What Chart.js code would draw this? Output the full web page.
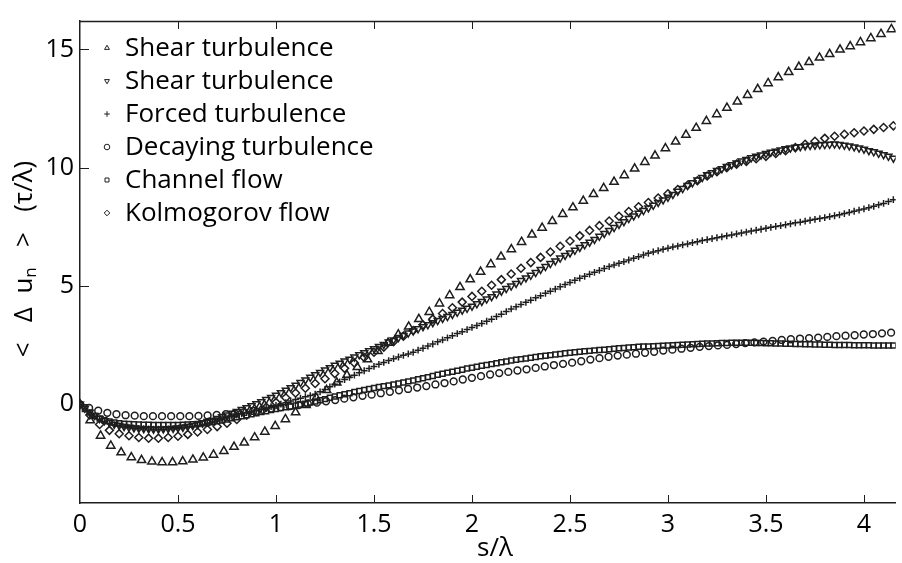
<!DOCTYPE html>
<html>
<head>
<meta charset="utf-8">
<script src="https://cdn.jsdelivr.net/npm/chart.js@4.4.1/dist/chart.umd.min.js"></script>
<style>
  body { margin: 0; background: #fff; }
  canvas { display: block; }
</style>
</head>
<body>
<canvas id="myChart" width="902" height="563"></canvas>
<script>
// Nombres de las series (leyenda)
const seriesLabels = ['Shear turbulence', 'Shear turbulence', 'Forced turbulence',
  'Decaying turbulence', 'Channel flow', 'Kolmogorov flow'];

// Shear turbulence (triángulo hacia arriba)
const sTri = [
  0, 0.052, 0.105, 0.157, 0.21, 0.262, 0.314, 0.367, 0.419, 0.472,
  0.524, 0.576, 0.629, 0.681, 0.734, 0.786, 0.838, 0.891, 0.943, 0.996,
  1.048, 1.1, 1.153, 1.205, 1.258, 1.31, 1.362, 1.415, 1.467, 1.52,
  1.572, 1.624, 1.677, 1.729, 1.782, 1.834, 1.886, 1.939, 1.991, 2.044,
  2.096, 2.148, 2.201, 2.253, 2.306, 2.358, 2.41, 2.463, 2.515, 2.568,
  2.62, 2.672, 2.725, 2.777, 2.83, 2.882, 2.934, 2.987, 3.039, 3.092,
  3.144, 3.196, 3.249, 3.301, 3.354, 3.406, 3.458, 3.511, 3.563, 3.616,
  3.668, 3.72, 3.773, 3.825, 3.878, 3.93, 3.982, 4.035, 4.087, 4.14
];
const shearUpY = [
  0, -0.68, -1.33, -1.75, -2.03, -2.24, -2.36, -2.42, -2.45, -2.45,
  -2.41, -2.34, -2.25, -2.13, -1.98, -1.8, -1.62, -1.4, -1.16, -0.92,
  -0.63, -0.34, -0.03, 0.28, 0.6, 0.92, 1.23, 1.57, 1.9, 2.25,
  2.6, 2.95, 3.28, 3.6, 3.9, 4.26, 4.61, 4.95, 5.28, 5.6,
  5.92, 6.24, 6.55, 6.86, 7.17, 7.46, 7.74, 8.04, 8.32, 8.6,
  8.88, 9.14, 9.4, 9.68, 9.96, 10.24, 10.51, 10.82, 11.1, 11.39,
  11.68, 11.97, 12.26, 12.53, 12.79, 13.07, 13.32, 13.57, 13.82, 14.04,
  14.26, 14.46, 14.65, 14.8, 14.99, 15.13, 15.3, 15.47, 15.65, 15.85
];

// Malla fina (triángulo abajo, cruces, cuadrados)
const sFine = [
  0, 0.025, 0.05, 0.075, 0.1, 0.125, 0.15, 0.175,
  0.2, 0.225, 0.25, 0.275, 0.3, 0.325, 0.35, 0.375,
  0.4, 0.425, 0.45, 0.475, 0.5, 0.525, 0.55, 0.575,
  0.6, 0.625, 0.65, 0.675, 0.7, 0.725, 0.75, 0.775,
  0.8, 0.825, 0.85, 0.875, 0.9, 0.925, 0.95, 0.975,
  1, 1.025, 1.05, 1.075, 1.1, 1.125, 1.15, 1.175,
  1.2, 1.225, 1.25, 1.275, 1.3, 1.325, 1.35, 1.375,
  1.4, 1.425, 1.45, 1.475, 1.5, 1.525, 1.55, 1.575,
  1.6, 1.625, 1.65, 1.675, 1.7, 1.725, 1.75, 1.775,
  1.8, 1.825, 1.85, 1.875, 1.9, 1.925, 1.95, 1.975,
  2, 2.025, 2.05, 2.075, 2.1, 2.125, 2.15, 2.175,
  2.2, 2.225, 2.25, 2.275, 2.3, 2.325, 2.35, 2.375,
  2.4, 2.425, 2.45, 2.475, 2.5, 2.525, 2.55, 2.575,
  2.6, 2.625, 2.65, 2.675, 2.7, 2.725, 2.75, 2.775,
  2.8, 2.825, 2.85, 2.875, 2.9, 2.925, 2.95, 2.975,
  3, 3.025, 3.05, 3.075, 3.1, 3.125, 3.15, 3.175,
  3.2, 3.225, 3.25, 3.275, 3.3, 3.325, 3.35, 3.375,
  3.4, 3.425, 3.45, 3.475, 3.5, 3.525, 3.55, 3.575,
  3.6, 3.625, 3.65, 3.675, 3.7, 3.725, 3.75, 3.775,
  3.8, 3.825, 3.85, 3.875, 3.9, 3.925, 3.95, 3.975,
  4, 4.025, 4.05, 4.075, 4.1, 4.125, 4.15
];
const shearDownY = [
  0, -0.17, -0.33, -0.47, -0.6, -0.69, -0.77, -0.84,
  -0.9, -0.94, -0.97, -1.0, -1.02, -1.03, -1.04, -1.05,
  -1.05, -1.04, -1.03, -1.02, -1.0, -0.97, -0.94, -0.9,
  -0.85, -0.79, -0.73, -0.67, -0.6, -0.53, -0.45, -0.38,
  -0.3, -0.22, -0.14, -0.06, 0.02, 0.11, 0.2, 0.29,
  0.38, 0.49, 0.6, 0.7, 0.81, 0.92, 1.03, 1.14,
  1.25, 1.35, 1.45, 1.55, 1.65, 1.74, 1.83, 1.91,
  2.0, 2.09, 2.18, 2.26, 2.35, 2.44, 2.53, 2.63,
  2.72, 2.82, 2.91, 3.01, 3.1, 3.19, 3.28, 3.36,
  3.45, 3.54, 3.63, 3.71, 3.8, 3.89, 3.98, 4.06,
  4.15, 4.25, 4.35, 4.45, 4.55, 4.66, 4.78, 4.89,
  5.0, 5.11, 5.23, 5.34, 5.45, 5.57, 5.7, 5.82,
  5.95, 6.06, 6.18, 6.29, 6.4, 6.51, 6.63, 6.74,
  6.85, 6.97, 7.1, 7.22, 7.35, 7.47, 7.6, 7.72,
  7.85, 7.96, 8.08, 8.19, 8.3, 8.41, 8.53, 8.64,
  8.75, 8.87, 9.0, 9.12, 9.25, 9.36, 9.48, 9.59,
  9.7, 9.79, 9.88, 9.96, 10.05, 10.13, 10.2, 10.28,
  10.35, 10.42, 10.48, 10.54, 10.6, 10.65, 10.7, 10.75,
  10.8, 10.83, 10.86, 10.89, 10.92, 10.94, 10.95, 10.97,
  10.98, 10.99, 11.0, 10.98, 10.95, 10.92, 10.88, 10.83,
  10.78, 10.72, 10.67, 10.61, 10.55, 10.48, 10.4
];
const forcedY = [
  0, -0.18, -0.35, -0.5, -0.63, -0.73, -0.81, -0.87,
  -0.92, -0.96, -0.99, -1.01, -1.02, -1.03, -1.04, -1.05,
  -1.05, -1.05, -1.04, -1.03, -1.02, -0.99, -0.96, -0.93,
  -0.9, -0.85, -0.8, -0.75, -0.7, -0.64, -0.58, -0.51,
  -0.45, -0.4, -0.35, -0.3, -0.25, -0.2, -0.15, -0.1,
  -0.05, 0.01, 0.07, 0.14, 0.2, 0.26, 0.32, 0.37,
  0.43, 0.53, 0.63, 0.74, 0.85, 0.95, 1.05, 1.14,
  1.23, 1.33, 1.42, 1.51, 1.6, 1.69, 1.77, 1.85,
  1.93, 2.0, 2.07, 2.13, 2.2, 2.29, 2.37, 2.46,
  2.55, 2.64, 2.72, 2.81, 2.9, 2.99, 3.07, 3.16,
  3.25, 3.33, 3.42, 3.51, 3.6, 3.71, 3.81, 3.92,
  4.03, 4.12, 4.22, 4.31, 4.4, 4.5, 4.59, 4.69,
  4.78, 4.87, 4.97, 5.06, 5.15, 5.24, 5.33, 5.41,
  5.5, 5.58, 5.66, 5.74, 5.82, 5.89, 5.96, 6.03,
  6.1, 6.17, 6.24, 6.31, 6.38, 6.44, 6.49, 6.55,
  6.6, 6.65, 6.69, 6.74, 6.78, 6.83, 6.87, 6.92,
  6.96, 7.0, 7.04, 7.08, 7.12, 7.16, 7.2, 7.24,
  7.28, 7.32, 7.36, 7.4, 7.44, 7.48, 7.52, 7.55,
  7.59, 7.63, 7.67, 7.7, 7.74, 7.78, 7.82, 7.85,
  7.89, 7.93, 7.97, 8.01, 8.06, 8.11, 8.16, 8.21,
  8.26, 8.31, 8.37, 8.43, 8.49, 8.57, 8.65
];
const channelY = [
  0, -0.2, -0.35, -0.49, -0.6, -0.67, -0.72, -0.77,
  -0.8, -0.82, -0.83, -0.84, -0.85, -0.86, -0.86, -0.87,
  -0.87, -0.87, -0.87, -0.87, -0.87, -0.86, -0.85, -0.84,
  -0.83, -0.8, -0.78, -0.75, -0.72, -0.68, -0.64, -0.59,
  -0.55, -0.51, -0.46, -0.42, -0.38, -0.33, -0.29, -0.24,
  -0.2, -0.16, -0.12, -0.09, -0.05, -0.01, 0.03, 0.08,
  0.12, 0.17, 0.22, 0.28, 0.33, 0.38, 0.43, 0.47,
  0.52, 0.56, 0.61, 0.65, 0.69, 0.73, 0.77, 0.8,
  0.84, 0.88, 0.92, 0.97, 1.01, 1.06, 1.1, 1.15,
  1.2, 1.25, 1.29, 1.34, 1.38, 1.42, 1.46, 1.51,
  1.55, 1.59, 1.63, 1.66, 1.7, 1.74, 1.78, 1.81,
  1.85, 1.88, 1.91, 1.94, 1.97, 2.0, 2.03, 2.05,
  2.08, 2.11, 2.13, 2.16, 2.18, 2.2, 2.22, 2.24,
  2.26, 2.28, 2.3, 2.31, 2.33, 2.35, 2.37, 2.38,
  2.4, 2.41, 2.43, 2.44, 2.45, 2.46, 2.47, 2.48,
  2.49, 2.5, 2.51, 2.52, 2.53, 2.54, 2.55, 2.56,
  2.57, 2.57, 2.58, 2.59, 2.59, 2.6, 2.6, 2.6,
  2.6, 2.6, 2.59, 2.59, 2.58, 2.58, 2.57, 2.57,
  2.56, 2.56, 2.55, 2.55, 2.54, 2.54, 2.53, 2.53,
  2.52, 2.52, 2.51, 2.51, 2.51, 2.51, 2.5, 2.5,
  2.5, 2.5, 2.49, 2.49, 2.49, 2.49, 2.49
];

// Decaying turbulence (círculos)
const sCirc = [
  0, 0.0465, 0.093, 0.1395, 0.186, 0.2325, 0.279, 0.3255, 0.372, 0.4185,
  0.465, 0.5115, 0.558, 0.6045, 0.651, 0.6975, 0.744, 0.7905, 0.837, 0.8835,
  0.93, 0.9765, 1.023, 1.0695, 1.116, 1.1625, 1.209, 1.2555, 1.302, 1.3485,
  1.395, 1.4415, 1.488, 1.5345, 1.581, 1.6275, 1.674, 1.7205, 1.767, 1.8135,
  1.86, 1.9065, 1.953, 1.9995, 2.046, 2.0925, 2.139, 2.1855, 2.232, 2.2785,
  2.325, 2.3715, 2.418, 2.4645, 2.511, 2.5575, 2.604, 2.6505, 2.697, 2.7435,
  2.79, 2.8365, 2.883, 2.9295, 2.976, 3.0225, 3.069, 3.1155, 3.162, 3.2085,
  3.255, 3.3015, 3.348, 3.3945, 3.441, 3.4875, 3.534, 3.5805, 3.627, 3.6735,
  3.72, 3.7665, 3.813, 3.8595, 3.906, 3.9525, 3.999, 4.0455, 4.092, 4.1385
];
const decayingY = [
  0, -0.15, -0.27, -0.36, -0.42, -0.46, -0.48, -0.5, -0.5, -0.5,
  -0.5, -0.5, -0.5, -0.49, -0.47, -0.45, -0.42, -0.38, -0.33, -0.28,
  -0.23, -0.18, -0.13, -0.08, -0.03, 0.02, 0.07, 0.13, 0.18, 0.24,
  0.3, 0.36, 0.41, 0.47, 0.53, 0.59, 0.65, 0.71, 0.77, 0.84,
  0.9, 0.97, 1.05, 1.12, 1.19, 1.26, 1.32, 1.37, 1.43, 1.48,
  1.54, 1.6, 1.66, 1.71, 1.76, 1.82, 1.89, 1.95, 2.01, 2.06,
  2.1, 2.14, 2.18, 2.22, 2.27, 2.31, 2.35, 2.39, 2.43, 2.46,
  2.49, 2.51, 2.55, 2.59, 2.62, 2.65, 2.68, 2.72, 2.75, 2.78,
  2.8, 2.82, 2.85, 2.88, 2.9, 2.92, 2.95, 2.97, 3.0, 3.03
];

// Kolmogorov flow (rombos)
const sDiam = [
  0, 0.05, 0.1, 0.15, 0.2, 0.25, 0.3, 0.35, 0.4, 0.45,
  0.5, 0.55, 0.6, 0.65, 0.7, 0.75, 0.8, 0.85, 0.9, 0.95,
  1, 1.05, 1.1, 1.15, 1.2, 1.25, 1.3, 1.35, 1.4, 1.45,
  1.5, 1.55, 1.6, 1.65, 1.7, 1.75, 1.8, 1.85, 1.9, 1.95,
  2, 2.05, 2.1, 2.15, 2.2, 2.25, 2.3, 2.35, 2.4, 2.45,
  2.5, 2.55, 2.6, 2.65, 2.7, 2.75, 2.8, 2.85, 2.9, 2.95,
  3, 3.05, 3.1, 3.15, 3.2, 3.25, 3.3, 3.35, 3.4, 3.45,
  3.5, 3.55, 3.6, 3.65, 3.7, 3.75, 3.8, 3.85, 3.9, 3.95,
  4, 4.05, 4.1, 4.15
];
const kolmogorovY = [
  0, -0.45, -0.85, -1.1, -1.24, -1.33, -1.4, -1.43, -1.43, -1.4,
  -1.35, -1.27, -1.17, -1.06, -0.94, -0.8, -0.64, -0.46, -0.3, -0.12,
  0.08, 0.28, 0.48, 0.68, 0.88, 1.08, 1.3, 1.52, 1.75, 1.98,
  2.2, 2.42, 2.65, 2.88, 3.12, 3.36, 3.6, 3.84, 4.08, 4.32,
  4.56, 4.78, 5.03, 5.27, 5.51, 5.75, 5.99, 6.21, 6.44, 6.68,
  6.9, 7.12, 7.35, 7.55, 7.75, 7.95, 8.15, 8.35, 8.53, 8.72,
  8.9, 9.08, 9.26, 9.45, 9.65, 9.83, 10.0, 10.15, 10.27, 10.38,
  10.48, 10.6, 10.72, 10.85, 10.99, 11.12, 11.24, 11.33, 11.41, 11.48,
  11.55, 11.62, 11.7, 11.77
];

const FONT = '"Open Sans", "DejaVu Sans", sans-serif';
const INK = '#1e1e1e';

function toPoints(xs, ys) {
  return xs.map((x, i) => ({ x: x, y: ys[i] }));
}

function makeSet(idx, xs, ys, style, radius, rotation) {
  return {
    label: seriesLabels[idx],
    data: toPoints(xs, ys),
    showLine: false,
    pointStyle: style,
    pointRotation: rotation || 0,
    pointRadius: radius,
    pointBorderWidth: 1.5,
    pointBorderColor: INK,
    pointBackgroundColor: 'rgba(0,0,0,0)',
    borderColor: INK,
    backgroundColor: 'rgba(0,0,0,0)'
  };
}

// Marco estilo MATLAB, marcas de ejes hacia dentro, leyenda y títulos
const framePlugin = {
  id: 'frame',
  afterDraw(chart) {
    const { ctx, chartArea: a, scales } = chart;
    const xs = scales.x, ys = scales.y;
    ctx.save();
    ctx.strokeStyle = INK;
    ctx.lineWidth = 1.5;
    ctx.beginPath();
    ctx.moveTo(a.left, a.top + 0.5);
    ctx.lineTo(a.right, a.top + 0.5);
    ctx.stroke();

    ctx.lineWidth = 1;
    ctx.beginPath();
    xs.ticks.forEach(t => {
      const px = Math.round(xs.getPixelForValue(t.value)) + 0.5;
      if (px <= a.left + 2) return;
      ctx.moveTo(px, a.bottom); ctx.lineTo(px, a.bottom - 8);
      ctx.moveTo(px, a.top); ctx.lineTo(px, a.top + 8);
    });
    ys.ticks.forEach(t => {
      const py = Math.round(ys.getPixelForValue(t.value)) + 0.5;
      ctx.moveTo(a.left, py); ctx.lineTo(a.left + 9, py);
    });
    ctx.stroke();

    // Leyenda
    ctx.font = '26px ' + FONT;
    ctx.textBaseline = 'middle';
    ctx.textAlign = 'left';
    chart.data.datasets.forEach((ds, i) => {
      const ly = 48 + i * 33;
      ctx.strokeStyle = INK;
      ctx.fillStyle = 'rgba(0,0,0,0)';
      Chart.helpers.drawPoint(ctx, {
        pointStyle: ds.pointStyle,
        rotation: ds.pointRotation,
        radius: 2.8,
        borderWidth: 1.3
      }, 107, ly);
      ctx.fillStyle = '#000';
      ctx.fillText(ds.label, 125, ly + 1);
    });

    // Título eje x
    ctx.textAlign = 'center';
    ctx.fillText('s/λ', 495, 549);

    // Título eje y con subíndice
    ctx.translate(25, 259);
    ctx.rotate(-Math.PI / 2);
    const big = '26px ' + FONT, small = '17px ' + FONT;
    const parts = [['<   Δ  u', big, 0], ['n', small, 6], ['   >   (τ/λ)', big, 0]];
    let total = 0;
    parts.forEach(p => { ctx.font = p[1]; total += ctx.measureText(p[0]).width; });
    let cx = -total / 2;
    ctx.textAlign = 'left';
    parts.forEach(p => {
      ctx.font = p[1];
      ctx.fillText(p[0], cx, p[2]);
      cx += ctx.measureText(p[0]).width;
    });
    ctx.restore();
  }
};

const ctx = document.getElementById('myChart').getContext('2d');
const myChart = new Chart(ctx, {
  type: 'scatter',
  data: {
    datasets: [
      makeSet(0, sTri, shearUpY, 'triangle', 4.8, 0),
      makeSet(1, sFine, shearDownY, 'triangle', 4.0, 180),
      makeSet(2, sFine, forcedY, 'cross', 3.4, 0),
      makeSet(3, sCirc, decayingY, 'circle', 3.4, 0),
      makeSet(4, sFine, channelY, 'rect', 3.5, 0),
      makeSet(5, sDiam, kolmogorovY, 'rectRot', 4.0, 0)
    ]
  },
  options: {
    responsive: false,
    animation: false,
    devicePixelRatio: 1,
    layout: { padding: { top: 14, left: 0, right: 0, bottom: 0 } },
    plugins: {
      legend: { display: false },
      tooltip: { enabled: false }
    },
    scales: {
      x: {
        type: 'linear',
        min: 0,
        max: 4.162,
        grid: { display: true, drawOnChartArea: false, drawTicks: false },
        border: { display: true, color: INK, width: 1.5 },
        ticks: {
          stepSize: 0.5,
          includeBounds: false,
          autoSkip: false,
          maxRotation: 0,
          padding: 7,
          color: '#000',
          font: { family: FONT, size: 25 },
          callback: v => String(v)
        },
        afterFit: s => { s.height = 60; }
      },
      y: {
        type: 'linear',
        min: -4.17,
        max: 16.2,
        grid: { display: true, drawOnChartArea: false, drawTicks: false },
        border: { display: true, color: INK, width: 1.5 },
        ticks: {
          stepSize: 5,
          includeBounds: false,
          padding: 6,
          color: '#000',
          font: { family: FONT, size: 25 },
          callback: v => String(v)
        },
        afterFit: s => { s.width = 80; }
      }
    }
  },
  plugins: [framePlugin]
});
</script>
</body>
</html>
